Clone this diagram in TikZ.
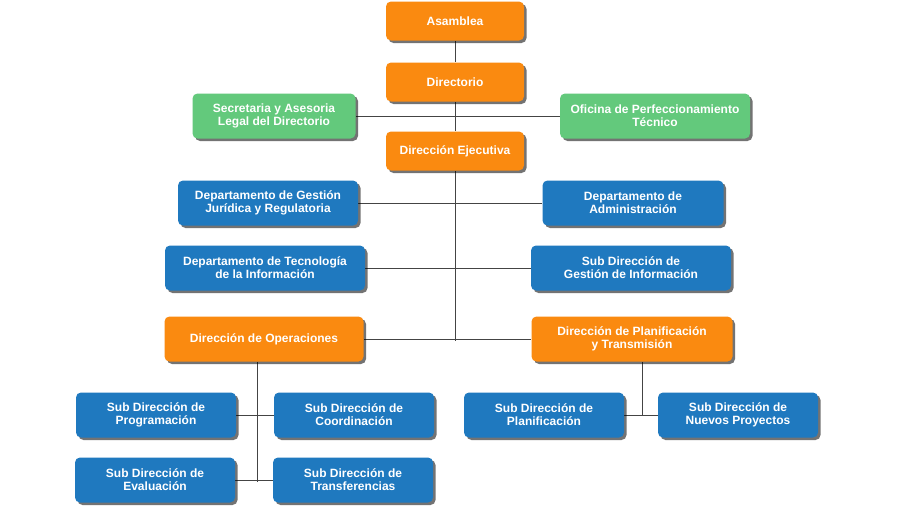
\documentclass[tikz,border=0pt]{standalone}
\usepackage{fontspec}
\setmainfont{Liberation Sans}
\usepackage{tikz}
\usetikzlibrary{shadows, backgrounds}

\definecolor{naranja}{HTML}{FA8A10}
\definecolor{verde}{HTML}{63C97C}
\definecolor{azul}{HTML}{1F79BF}
\definecolor{linea}{HTML}{444444}

\begin{document}
\begin{tikzpicture}[
  x=1pt, y=-1pt,
  every node/.style={font=\fontsize{12}{13}\selectfont\bfseries, text=white, align=center},
  box/.style={rectangle, rounded corners=5pt, inner sep=2pt,
    drop shadow={shadow xshift=2.5pt, shadow yshift=-2.5pt, opacity=0.55, fill=black}},
  org/.style={box, fill=naranja, minimum height=39pt},
  asesor/.style={box, fill=verde, minimum height=45pt},
  dep/.style={box, fill=azul, minimum height=45pt},
  link/.style={draw=linea, line width=0.9pt},
]
  \useasboundingbox (0,0) rectangle (900,520);

  \node[org, minimum width=138pt] (ASAM) at (455,21) {Asamblea};
  \node[org, minimum width=138pt] (DIR) at (455,82) {Directorio};
  \node[asesor, minimum width=163pt] (SEC) at (274,116) {Secretaria y Asesoria\\Legal del Directorio};
  \node[asesor, minimum width=190pt] (OFI) at (655,116) {Oficina de Perfeccionamiento\\Técnico};
  \node[org, minimum width=138pt] (DE) at (455,151) {Dirección Ejecutiva};

  \node[dep, minimum width=180pt] (DGJ) at (268,203) {Departamento de Gestión\\Jurídica y Regulatoria};
  \node[dep, minimum width=181pt] (DA) at (633,203) {Departamento de\\Administración};
  \node[dep, minimum width=200pt] (DTI) at (265,268) {Departamento de Tecnología\\de la Información};
  \node[dep, minimum width=200pt] (SGI) at (631,268) {Sub Dirección de\\Gestión de Información};
  \node[org, minimum width=199pt, minimum height=45pt] (DO) at (264,339) {Dirección de Operaciones};
  \node[org, minimum width=201pt, minimum height=45pt] (DPT) at (632,339) {Dirección de Planificación\\y Transmisión};

  \node[dep, minimum width=160pt] (SPR) at (156,415) {Sub Dirección de\\Programación};
  \node[dep, minimum width=160pt] (SCO) at (354,415) {Sub Dirección de\\Coordinación};
  \node[dep, minimum width=160pt] (SEV) at (155,480) {Sub Dirección de\\Evaluación};
  \node[dep, minimum width=160pt] (STR) at (353,480) {Sub Dirección de\\Transferencias};
  \node[dep, minimum width=160pt] (SPL) at (544,415) {Sub Dirección de\\Planificación};
  \node[dep, minimum width=160pt] (SNP) at (738,415) {Sub Dirección de\\Nuevos Proyectos};

  \coordinate (TR) at (455,341);
  \coordinate (OB) at (257,482);
  \coordinate (PB) at (642,416);

  \begin{scope}[on background layer]
    \fill[white] (0,0) rectangle (900,520);
    \draw[link] (ASAM) -- (DIR);
    \draw[link] (DIR) -- (DE);
    \draw[link] (DE) -- (TR);
    \draw[link] (SEC) -- (OFI);
    \draw[link] (DGJ) -- (DA);
    \draw[link] (DTI) -- (SGI);
    \draw[link] (DO) -- (DPT);
    % operaciones
    \draw[link] (DO.south -| OB) -- (OB);
    \draw[link] (SPR) -- (SCO);
    \draw[link] (SEV) -- (STR);
    % planificacion
    \draw[link] (DPT.south -| PB) -- (PB);
    \draw[link] (SPL) -- (SNP);
  \end{scope}
\end{tikzpicture}
\end{document}
